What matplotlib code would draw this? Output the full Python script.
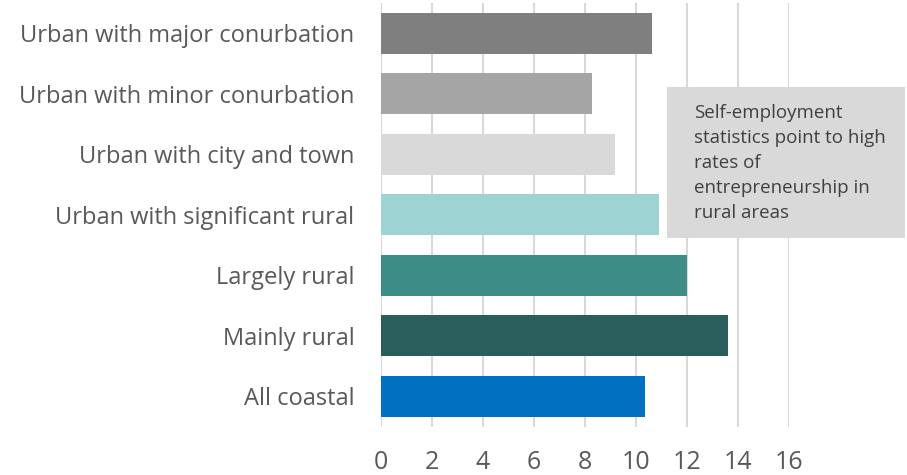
import matplotlib
matplotlib.use("Agg")
import matplotlib.pyplot as plt

categories = ["Urban with major conurbation", "Urban with minor conurbation",
              "Urban with city and town", "Urban with significant rural",
              "Largely rural", "Mainly rural", "All coastal"]
values = [10.63, 8.28, 9.2, 10.9, 12.0, 13.6, 10.36]
colors = ["#7f7f7f", "#a5a5a5", "#d9d9d9", "#9dd4d3", "#3d8c85", "#2a5e5b", "#0070c0"]
xticks = [0, 2, 4, 6, 8, 10, 12, 14, 16]
note = "Self-employment\nstatistics point to high\nrates of\nentrepreneurship in\nrural areas"

plt.rcParams['font.family'] = ['Open Sans', 'DejaVu Sans']

fig = plt.figure(figsize=(9.07, 4.75), dpi=100)
ax = fig.add_axes([380.7/907, 1-426.5/475, (789-380.7)/907, (426.5-3)/475])
y = list(range(len(categories)))
ax.barh(y, values, height=0.67, color=colors, zorder=3)
ax.set_ylim(len(categories)-0.5, -0.5)
ax.set_xlim(0, 16)
ax.set_xticks(xticks)
ax.set_xticklabels([str(t) for t in xticks])
ax.set_yticks(y)
ax.set_yticklabels(categories)
ax.tick_params(axis='both', length=0, labelsize=17, colors='#595959')
ax.tick_params(axis='y', pad=19)
ax.tick_params(axis='x', pad=17, labelsize=18)
for s in ax.spines.values():
    s.set_visible(False)
ax.grid(axis='x', color='#d9d9d9', linewidth=1.5, zorder=0)
ax.set_axisbelow(True)

fig.patches.append(plt.Rectangle((667/907, 1-238/475), (905-667)/907, (238-87)/475,
                                 transform=fig.transFigure, facecolor='#d9d9d9',
                                 edgecolor='none', zorder=5))
fig.text(694/907, 1-104/475, note, fontsize=13.5, color='#404040', va='top', ha='left',
         linespacing=1.5, zorder=6)

fig.savefig("out.png", dpi=100)
